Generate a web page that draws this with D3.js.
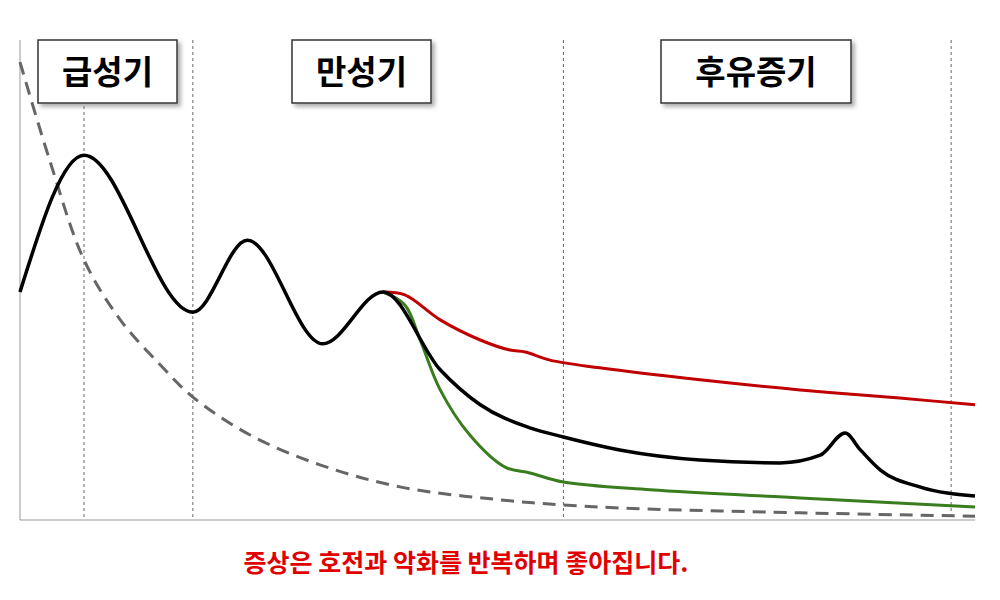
<!DOCTYPE html>
<html><head><meta charset="utf-8">
<script src="https://cdn.jsdelivr.net/npm/d3@7"></script>
<style>body{margin:0;background:#fff}</style></head>
<body><svg id="c" width="1000" height="600"></svg>
<script>
const phases = ["급성기","만성기","후유증기"];
const phaseLines = [6.7, 18.1, 56.9, 97.5];
const blackT = [0,6.7,18.1,23.8,31.7,38.0,44.0,48.2,53.4,56.9,62.8,71.2,79.6,83.8,86.4,88.0,90.1,94.2,100];
const blackV = [47.5,76.0,43.3,58.3,36.7,47.5,31.3,24.0,19.2,17.3,14.6,12.5,11.9,13.5,18.1,14.6,10.4,6.9,5.0];
const redT = [38.0,40.3,44.0,48.2,51.3,52.9,55.5,60.7,71.2,81.7,92.1,100];
const redV = [47.5,46.9,41.7,37.5,35.4,35.0,33.3,31.7,29.2,27.1,25.4,24.0];
const greenT = [38.0,40.3,41.9,44.0,47.1,50.8,53.4,56.9,66.0,81.7,100];
const greenV = [47.5,44.8,37.5,27.1,17.7,11.0,9.8,7.9,6.3,4.6,2.7];
const dashT = [0,3.1,6.7,10.5,14.7,18.1,24.1,31.4,39.8,50.3,60.7,81.7,100];
const dashV = [95.4,75,54.2,41.7,32.3,25.6,17.7,11.5,6.9,4.2,2.7,1.5,0.8];
const caption = "증상은 호전과 악화를 반복하며 좋아집니다.";

const svg = d3.select("#c");
const x = d3.scaleLinear().domain([0,100]).range([20,975]);
const y = d3.scaleLinear().domain([0,100]).range([520,40]);
const defs = svg.append("defs");
const f = defs.append("filter").attr("id","sh").attr("x","-20%").attr("y","-20%").attr("width","150%").attr("height","150%");
f.append("feDropShadow").attr("dx",3).attr("dy",3).attr("stdDeviation",2).attr("flood-color","#888").attr("flood-opacity",0.7);

svg.selectAll(".pl").data(phaseLines).join("line")
  .attr("x1",d=>x(d)).attr("x2",d=>x(d)).attr("y1",40).attr("y2",520)
  .attr("stroke","#666").attr("stroke-width",1).attr("stroke-dasharray","3,3");
svg.append("line").attr("x1",20).attr("x2",20).attr("y1",40).attr("y2",520).attr("stroke","#999");
svg.append("line").attr("x1",20).attr("x2",975).attr("y1",520).attr("y2",520).attr("stroke","#999");

const z = (a,b)=>a.map((t,i)=>[t,b[i]]);
const line = d3.line().x(d=>x(d[0])).y(d=>y(d[1])).curve(d3.curveCatmullRom.alpha(0.5));
const mline = d3.line().x(d=>x(d[0])).y(d=>y(d[1])).curve(d3.curveMonotoneX);
svg.append("path").attr("d",line(z(dashT,dashV))).attr("fill","none").attr("stroke","#666").attr("stroke-width",3).attr("stroke-dasharray","13,8");
svg.append("path").attr("d",line(z(redT,redV))).attr("fill","none").attr("stroke","#c00000").attr("stroke-width",3);
svg.append("path").attr("d",line(z(greenT,greenV))).attr("fill","none").attr("stroke","#3a7d1e").attr("stroke-width",3);
svg.append("path").attr("d",mline(z(blackT,blackV))).attr("fill","none").attr("stroke","#000").attr("stroke-width",3.5);

const boxes = [[38,139],[292,139],[661,190]];
phases.forEach((p,i)=>{
  const [bx,bw]=boxes[i];
  svg.append("rect").attr("x",bx).attr("y",40).attr("width",bw).attr("height",63)
    .attr("fill","#fff").attr("stroke","#333").attr("stroke-width",1.5).attr("filter","url(#sh)");
  svg.append("text").attr("x",bx+bw/2).attr("y",84).attr("text-anchor","middle")
    .attr("font-family","Noto Sans CJK KR").attr("font-weight","bold").attr("font-size",33).text(p);
});
svg.append("text").attr("x",466).attr("y",572).attr("text-anchor","middle")
  .attr("font-family","Noto Sans CJK KR").attr("font-weight","bold").attr("font-size",25).attr("fill","#e00000").text(caption);
</script></body></html>
